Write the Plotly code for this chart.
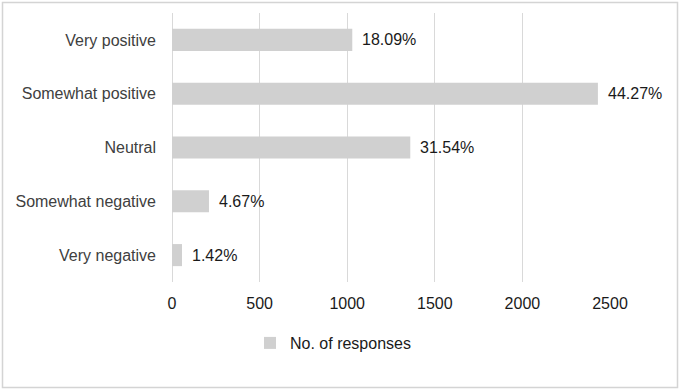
import plotly.graph_objects as go

categories = ["Very positive", "Somewhat positive", "Neutral", "Somewhat negative", "Very negative"]
responses = [1029, 2431, 1360, 211, 57]
pct_labels = ["18.09%", "44.27%", "31.54%", "4.67%", "1.42%"]
x_ticks = [0, 500, 1000, 1500, 2000, 2500]
series_name = "No. of responses"

W, H = 680, 391
ML, MR, MT, MB = 172, 70, 13, 109
PW, PH = W - ML - MR, H - MT - MB

def px_x(px):
    return (px - ML) / PW

def px_y(py):
    return (H - MB - py) / PH

FONT = "Liberation Sans, Arial, sans-serif"
TXT = "#404040"

fig = go.Figure()
fig.add_trace(go.Bar(
    y=categories, x=responses, orientation="h", name=series_name,
    marker=dict(color="#d0d0d0", line=dict(width=0)),
    showlegend=True,
))

for c, v, t in zip(categories, responses, pct_labels):
    fig.add_annotation(x=v, y=c, text=t, showarrow=False, xanchor="left",
                       xshift=8, font=dict(family=FONT, size=16, color="#1a1a1a"))

fig.add_shape(type="rect", xref="paper", yref="paper",
              x0=px_x(2.5), x1=px_x(677.5), y0=px_y(387.5), y1=px_y(2.5),
              line=dict(color="#d4d4d4", width=1.5), fillcolor="rgba(0,0,0,0)", layer="below")

fig.update_layout(
    width=W, height=H,
    margin=dict(l=ML, r=MR, t=MT, b=MB, pad=0, autoexpand=False),
    paper_bgcolor="white", plot_bgcolor="white",
    font=dict(family=FONT, size=16, color=TXT),
    bargap=0.59,
    showlegend=True,
    legend=dict(orientation="h", x=px_x(333), xanchor="center", y=px_y(343), yanchor="middle",
                font=dict(family=FONT, size=16, color="#1a1a1a"), itemwidth=30, itemsizing="constant"),
    xaxis=dict(range=[0, 2500], tickvals=x_ticks, ticktext=[str(v) for v in x_ticks],
               showgrid=True, gridcolor="#d9d9d9", gridwidth=1,
               zeroline=True, zerolinecolor="#d9d9d9", zerolinewidth=1,
               showline=False, ticks="", ticklabelstandoff=10, automargin=False,
               tickfont=dict(family=FONT, size=16, color="#1a1a1a"), fixedrange=True),
    yaxis=dict(categoryorder="array", categoryarray=categories, autorange="reversed",
               showgrid=False, zeroline=False, showline=False, ticks="", automargin=False,
               ticklabelstandoff=15, tickfont=dict(family=FONT, size=16, color=TXT)),
)

fig.write_html("out.html", config={"displayModeBar": False},
               post_script="document.body.style.margin='0';document.body.style.overflow='hidden';")
